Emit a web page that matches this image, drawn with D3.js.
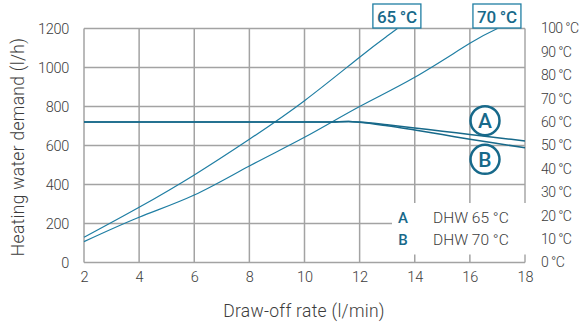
<!DOCTYPE html>
<html><head><meta charset="utf-8">
<script src="https://cdn.jsdelivr.net/npm/d3@7"></script>
<style>
body{margin:0;background:#fff;}
text{font-family:"Roboto","Liberation Sans",sans-serif;}
</style></head><body>
<svg id="c" width="579" height="324"></svg>
<script>
const xTicks = [2,4,6,8,10,12,14,16,18];
const yTicks = [0,200,400,600,800,1000,1200];
const tTicks = [0,10,20,30,40,50,60,70,80,90,100];
const x65 = [2,4,6,8,10,12,13,13.37];
const demand65 = [129,283,449,632,830,1053,1161,1200];
const x70 = [2,4,6,8,10,12,14,16,17];
const demand70 = [107,232,346,495,642,800,950,1124,1200];
const xOut = [2,4,6,8,10,11,11.6,12,13,14,15,16,17,18];
const outA = [720,720,720,720,720,721,723,720,706,690,673,657,640,623];
const outB = [720,720,720,720,720,721,723,719,701,679,656,632,610,589];
const legendKeys = ["A","B"];
const legendLabels = ["DHW 65 °C","DHW 70 °C"];
const curveLabels = ["65 °C","70 °C"];

const svg = d3.select("#c");
const x = d3.scaleLinear().domain([2,18]).range([84,525]);
const y = d3.scaleLinear().domain([0,1200]).range([262.5,28.5]);
const t = d3.scaleLinear().domain([0,100]).range([262.5,28.5]);
const teal = "#1f7ea3", dark = "#17698a", grid = "#a3a3a3", txt = "#3c3c3c";

// grid
svg.append("g").selectAll("line").data(xTicks).join("line")
  .attr("x1",d=>x(d)).attr("x2",d=>x(d)).attr("y1",y(0)).attr("y2",y(1200))
  .attr("stroke",d=>d===18?"#bdbdbd":grid).attr("stroke-width",d=>d===18?2:1.5);
svg.append("g").selectAll("line").data(yTicks).join("line")
  .attr("x1",x(2)).attr("x2",x(18)).attr("y1",d=>y(d)).attr("y2",d=>y(d))
  .attr("stroke",grid).attr("stroke-width",1.5);

// axes labels
const gl = svg.append("g").attr("transform",`translate(${x(2)},0)`)
  .call(d3.axisLeft(y).tickValues(yTicks).tickSize(0).tickPadding(15).tickFormat(d3.format("d")));
gl.select(".domain").remove();
gl.selectAll("text").attr("font-size",14.5).attr("font-weight",300).attr("fill",txt).attr("letter-spacing",-0.3);
const gb = svg.append("g").attr("transform",`translate(0,${y(0)})`)
  .call(d3.axisBottom(x).tickValues(xTicks).tickSize(0).tickPadding(9));
gb.select(".domain").remove();
gb.selectAll("text").attr("font-size",14.5).attr("font-weight",300).attr("fill",txt);
const gr = svg.append("g").attr("transform",`translate(${x(18)},0)`)
  .call(d3.axisRight(t).tickValues(tTicks).tickSize(0).tickPadding(16).tickFormat(d=>d+" °C"));
gr.select(".domain").remove();
gr.selectAll("text").attr("font-size",14).attr("font-weight",300).attr("fill",txt).attr("letter-spacing",-0.6);

svg.append("text").attr("x",304).attr("y",317).attr("text-anchor","middle")
  .attr("font-size",17.5).attr("font-weight",300).attr("letter-spacing",0.3).attr("fill",txt).text("Draw-off rate (l/min)");
svg.append("text").attr("transform","translate(23.5,147) rotate(-90)").attr("text-anchor","middle")
  .attr("font-size",17.5).attr("font-weight",300).attr("letter-spacing",0.3).attr("fill",txt).text("Heating water demand (l/h)");

const line = d3.line().x(d=>x(d[0])).y(d=>y(d[1])).curve(d3.curveNatural);
const line2 = d3.line().x(d=>x(d[0])).y(d=>y(d[1])).curve(d3.curveMonotoneX);
svg.append("path").datum(d3.zip(x65,demand65)).attr("d",line).attr("fill","none").attr("stroke",teal).attr("stroke-width",1.2);
svg.append("path").datum(d3.zip(x70,demand70)).attr("d",line).attr("fill","none").attr("stroke",teal).attr("stroke-width",1.2);
svg.append("path").datum(d3.zip(xOut,outA)).attr("d",line2).attr("fill","none").attr("stroke",dark).attr("stroke-width",1.5);
svg.append("path").datum(d3.zip(xOut,outB)).attr("d",line2).attr("fill","none").attr("stroke",dark).attr("stroke-width",1.5);

// curve labels
const lblPos = [x65[x65.length-1], x70[x70.length-1]];
curveLabels.forEach((s,i)=>{
  const cx = x(lblPos[i]) - 0.5;
  svg.append("rect").attr("x",cx-24).attr("y",4).attr("width",48).attr("height",24)
    .attr("fill","#fff").attr("stroke",teal).attr("stroke-width",1.3);
  svg.append("text").attr("x",cx).attr("y",22.5).attr("text-anchor","middle")
    .attr("font-size",17).attr("font-weight",500).attr("fill",dark).attr("letter-spacing",-0.3).text(s);
});

// circled A / B
[[485,120.7],[485,159.3]].forEach((p,i)=>{
  svg.append("circle").attr("cx",p[0]).attr("cy",p[1]).attr("r",14.5)
    .attr("fill","#fff").attr("stroke",dark).attr("stroke-width",2.5);
  svg.append("text").attr("x",p[0]).attr("y",p[1]+7.5).attr("text-anchor","middle")
    .attr("font-size",21).attr("font-weight",500).attr("fill",dark).text(legendKeys[i]);
});

// legend box
svg.append("rect").attr("x",392).attr("y",203).attr("width",138).attr("height",51.5).attr("fill","#fff");
legendKeys.forEach((k,i)=>{
  const yy = 223 + i*22;
  svg.append("text").attr("x",403).attr("y",yy).attr("text-anchor","middle")
    .attr("font-size",15).attr("font-weight",500).attr("fill",dark).text(k);
  svg.append("text").attr("x",433).attr("y",yy).attr("font-size",15.5).attr("font-weight",300).attr("fill",txt).text(legendLabels[i]);
});
</script></body></html>
